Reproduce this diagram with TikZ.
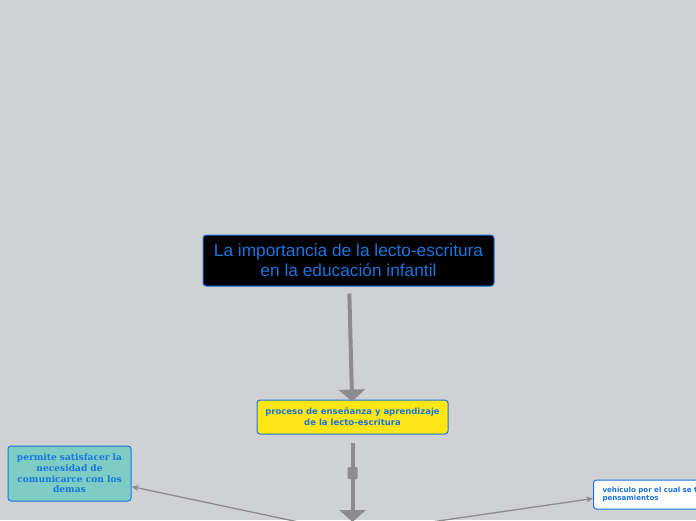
\documentclass[tikz,border=0pt]{standalone}
\usepackage{fontspec}
\setmainfont{Liberation Sans}
\newfontfamily\verdanafont{DejaVu Sans}
\newfontfamily\georgiafont{DejaVu Serif}
\usetikzlibrary{arrows.meta}
\definecolor{bgGray}{RGB}{208,209,211}
\definecolor{lineGray}{RGB}{140,140,143}
\definecolor{mapBlue}{RGB}{26,115,222}
\definecolor{mapYellow}{RGB}{255,230,20}
\definecolor{mapTeal}{RGB}{126,205,196}

\begin{document}
\begin{tikzpicture}
[x=1pt,y=-1pt,
  titleDecorate/.style={draw=mapBlue,fill=black,text=mapBlue,rounded corners=3pt,
    line width=1pt,minimum width=291pt,minimum height=51pt,align=center,
    font=\fontsize{17.3}{20.5}\selectfont},
  subDecorate/.style={draw=mapBlue,fill=mapYellow,text=mapBlue,rounded corners=3pt,
    line width=1pt,minimum width=191pt,minimum height=34pt,align=center,
    font=\verdanafont\bfseries\fontsize{8.5}{11}\selectfont},
  leafDecorate/.style={draw=mapBlue,rounded corners=3pt,text=mapBlue,line width=1pt},
  mainArrow/.style={draw=lineGray,line width=4pt,-{Triangle[width=26pt,length=12pt]}},
  thinArrow/.style={draw=lineGray,line width=1.3pt,-{Stealth[length=7pt,width=6pt]}},
  handle/.style={fill=lineGray,rounded corners=1pt,minimum width=10pt,minimum height=12pt,inner sep=0pt}]
%% background
\fill[bgGray] (0,0) rectangle (696,520);
\useasboundingbox (0,0) rectangle (696,520);
%% nodes
\node (titulo) at (348.5,260.5) [titleDecorate]
  {La importancia de la lecto-escritura\\en la educación infantil};
\node (proceso) at (352.5,417) [subDecorate]
  {proceso de enseñanza y aprendizaje\\de la lecto-escritura};
\node (permite) at (69.5,473.5) [leafDecorate,fill=mapTeal,minimum width=123pt,
  minimum height=55pt,text width=117pt,align=center,inner sep=3pt,
  font=\georgiafont\bfseries\fontsize{9.1}{10.7}\selectfont]
  {permite satisfacer la\\necesidad de\\comunicarce con los\\demas};
\node (vehiculo) at (593,494.5) [leafDecorate,fill=white,anchor=west,
  minimum height=29pt,text width=190pt,align=left,inner xsep=9pt,
  font=\verdanafont\bfseries\fontsize{7.1}{8}\selectfont]
  {vehículo por el cual se transmiten los\\pensamientos};
%% hidden ends below the page
\coordinate (abajo) at (352.5,522);
\coordinate (centro) at (352.5,533.4);
%% connectors
\draw[mainArrow,shorten <=7pt,shorten >=-2pt] (titulo) -- (proceso);
\draw[mainArrow,shorten <=8pt] (proceso) -- node[pos=0.44,handle] {} (abajo);
\draw[thinArrow] (centro) -- (permite);
\draw[thinArrow] (centro) -- ([yshift=-4pt]vehiculo.west);
\end{tikzpicture}
\end{document}
